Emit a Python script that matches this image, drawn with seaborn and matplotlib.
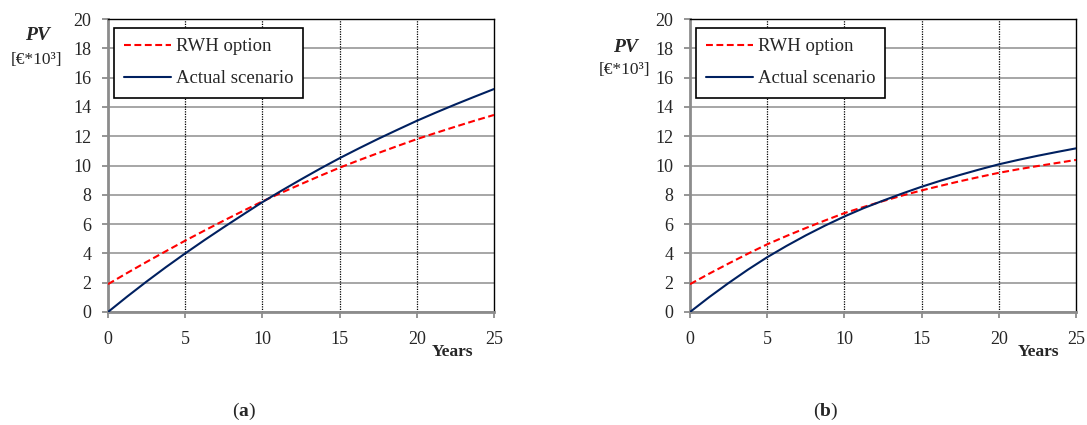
import pandas as pd
import matplotlib
matplotlib.use("Agg")
import matplotlib.pyplot as plt
import seaborn as sns

# ── Data ──────────────────────────────────────────────────────────────────────
years = [0, 1.25, 2.5, 3.75, 5, 6.25, 7.5, 8.75, 10, 11.25, 12.5, 13.75,
         15, 16.25, 17.5, 18.75, 20, 21.25, 22.5, 23.75, 25]

rwh_a = [1.9, 2.67, 3.42, 4.15, 4.87, 5.56, 6.24, 6.90, 7.55, 8.15, 8.73,
         9.30, 9.85, 10.36, 10.85, 11.33, 11.80, 12.23, 12.65, 13.06, 13.45]
actual_a = [0.0, 1.06, 2.08, 3.06, 4.0, 4.91, 5.79, 6.65, 7.5, 8.29, 9.05,
            9.79, 10.5, 11.17, 11.82, 12.44, 13.05, 13.62, 14.17, 14.70, 15.22]

rwh_b = [1.9, 2.62, 3.31, 3.98, 4.62, 5.19, 5.73, 6.25, 6.75, 7.17, 7.57,
         7.95, 8.30, 8.62, 8.93, 9.22, 9.50, 9.74, 9.96, 10.17, 10.38]
actual_b = [0.0, 1.02, 1.98, 2.89, 3.74, 4.51, 5.23, 5.90, 6.52, 7.09, 7.60,
            8.09, 8.55, 8.97, 9.36, 9.73, 10.08, 10.38, 10.66, 10.92, 11.17]

series_names = ["RWH option", "Actual scenario"]
x_ticks = [0, 5, 10, 15, 20, 25]
y_ticks = list(range(0, 21, 2))
panel_labels = ["a", "b"]

# ── Style ─────────────────────────────────────────────────────────────────────
sns.set_style("white")
plt.rcParams["font.family"] = ["Liberation Serif", "DejaVu Serif"]
plt.rcParams["mathtext.fontset"] = "custom"
plt.rcParams["mathtext.rm"] = "Liberation Serif"
plt.rcParams["mathtext.bf"] = "Liberation Serif:bold"
plt.rcParams["font.size"] = 13

COLORS = {"RWH option": "#ff0000", "Actual scenario": "#002060"}
DASHES = {"RWH option": (3.3, 1.7), "Actual scenario": ""}
W, H = 1087, 425


def make_df(rwh, actual):
    return pd.DataFrame({
        "year": years * 2,
        "pv": rwh + actual,
        "series": [series_names[0]] * len(years) + [series_names[1]] * len(years),
    })


fig = plt.figure(figsize=(W / 100, H / 100), dpi=100)
axes_px = [108, 690]  # left edges in pixels
panels = [(rwh_a, actual_a), (rwh_b, actual_b)]
pv_pos = [((37, 35), (37, 60)), ((625, 47), (624, 70))]
years_pos = [453, 1038]
lab_pos = [244, 826]

for i, (rwh, actual) in enumerate(panels):
    ax = fig.add_axes([axes_px[i] / W, 1 - 312 / H, 386 / W, 293 / H])
    df = make_df(rwh, actual)
    sns.lineplot(data=df, x="year", y="pv", hue="series", style="series",
                 palette=COLORS, dashes=DASHES, linewidth=1.5, ax=ax,
                 zorder=3)

    ax.set_xlim(0, 25)
    ax.set_ylim(0, 20)
    ax.set_xticks(x_ticks)
    ax.set_yticks(y_ticks)
    ax.set_xlabel("")
    ax.set_ylabel("")

    # grid: solid gray horizontals, dotted black verticals
    ax.grid(axis="y", color="#a6a6a6", linewidth=1.4, linestyle="-", zorder=1)
    for xv in x_ticks[1:-1]:
        ax.axvline(xv, color="black", linewidth=0.9, linestyle=(0, (1, 1)),
                   zorder=1)

    for side in ["left", "bottom"]:
        ax.spines[side].set_color("#8c8c8c")
        ax.spines[side].set_linewidth(2)
    for side in ["top", "right"]:
        ax.spines[side].set_color("black")
        ax.spines[side].set_linewidth(1)

    ax.tick_params(axis="both", direction="out", length=4, width=1.3,
                   color="#8c8c8c", labelsize=13, left=True, bottom=True)
    ax.tick_params(axis="x", pad=10)
    ax.tick_params(axis="y", pad=8)

    leg = ax.legend(loc="upper left", bbox_to_anchor=(0.015, 0.97),
                    frameon=True, fancybox=False, edgecolor="black",
                    fontsize=13.5, handlelength=2.5, labelspacing=0.8,
                    borderpad=0.55, handletextpad=0.25, borderaxespad=0)
    leg.get_frame().set_linewidth(1.2)
    leg.get_frame().set_alpha(1)

    (px1, py1), (px2, py2) = pv_pos[i]
    fig.text(px1 / W, 1 - py1 / H, "PV", ha="center", va="center",
             fontsize=14, fontweight="bold", fontstyle="italic")
    fig.text(px2 / W, 1 - py2 / H, "[€*10³]", ha="center", va="center",
             fontsize=12.5)
    fig.text(years_pos[i] / W, 1 - 352 / H, "Years", ha="center",
             va="center", fontsize=12.5, fontweight="bold")
    fig.text(lab_pos[i] / W, 1 - 411 / H,
             "(" + r"$\mathbf{" + panel_labels[i] + "}$" + ")",
             ha="center", va="center", fontsize=14)

fig.savefig("out.png", dpi=100)
